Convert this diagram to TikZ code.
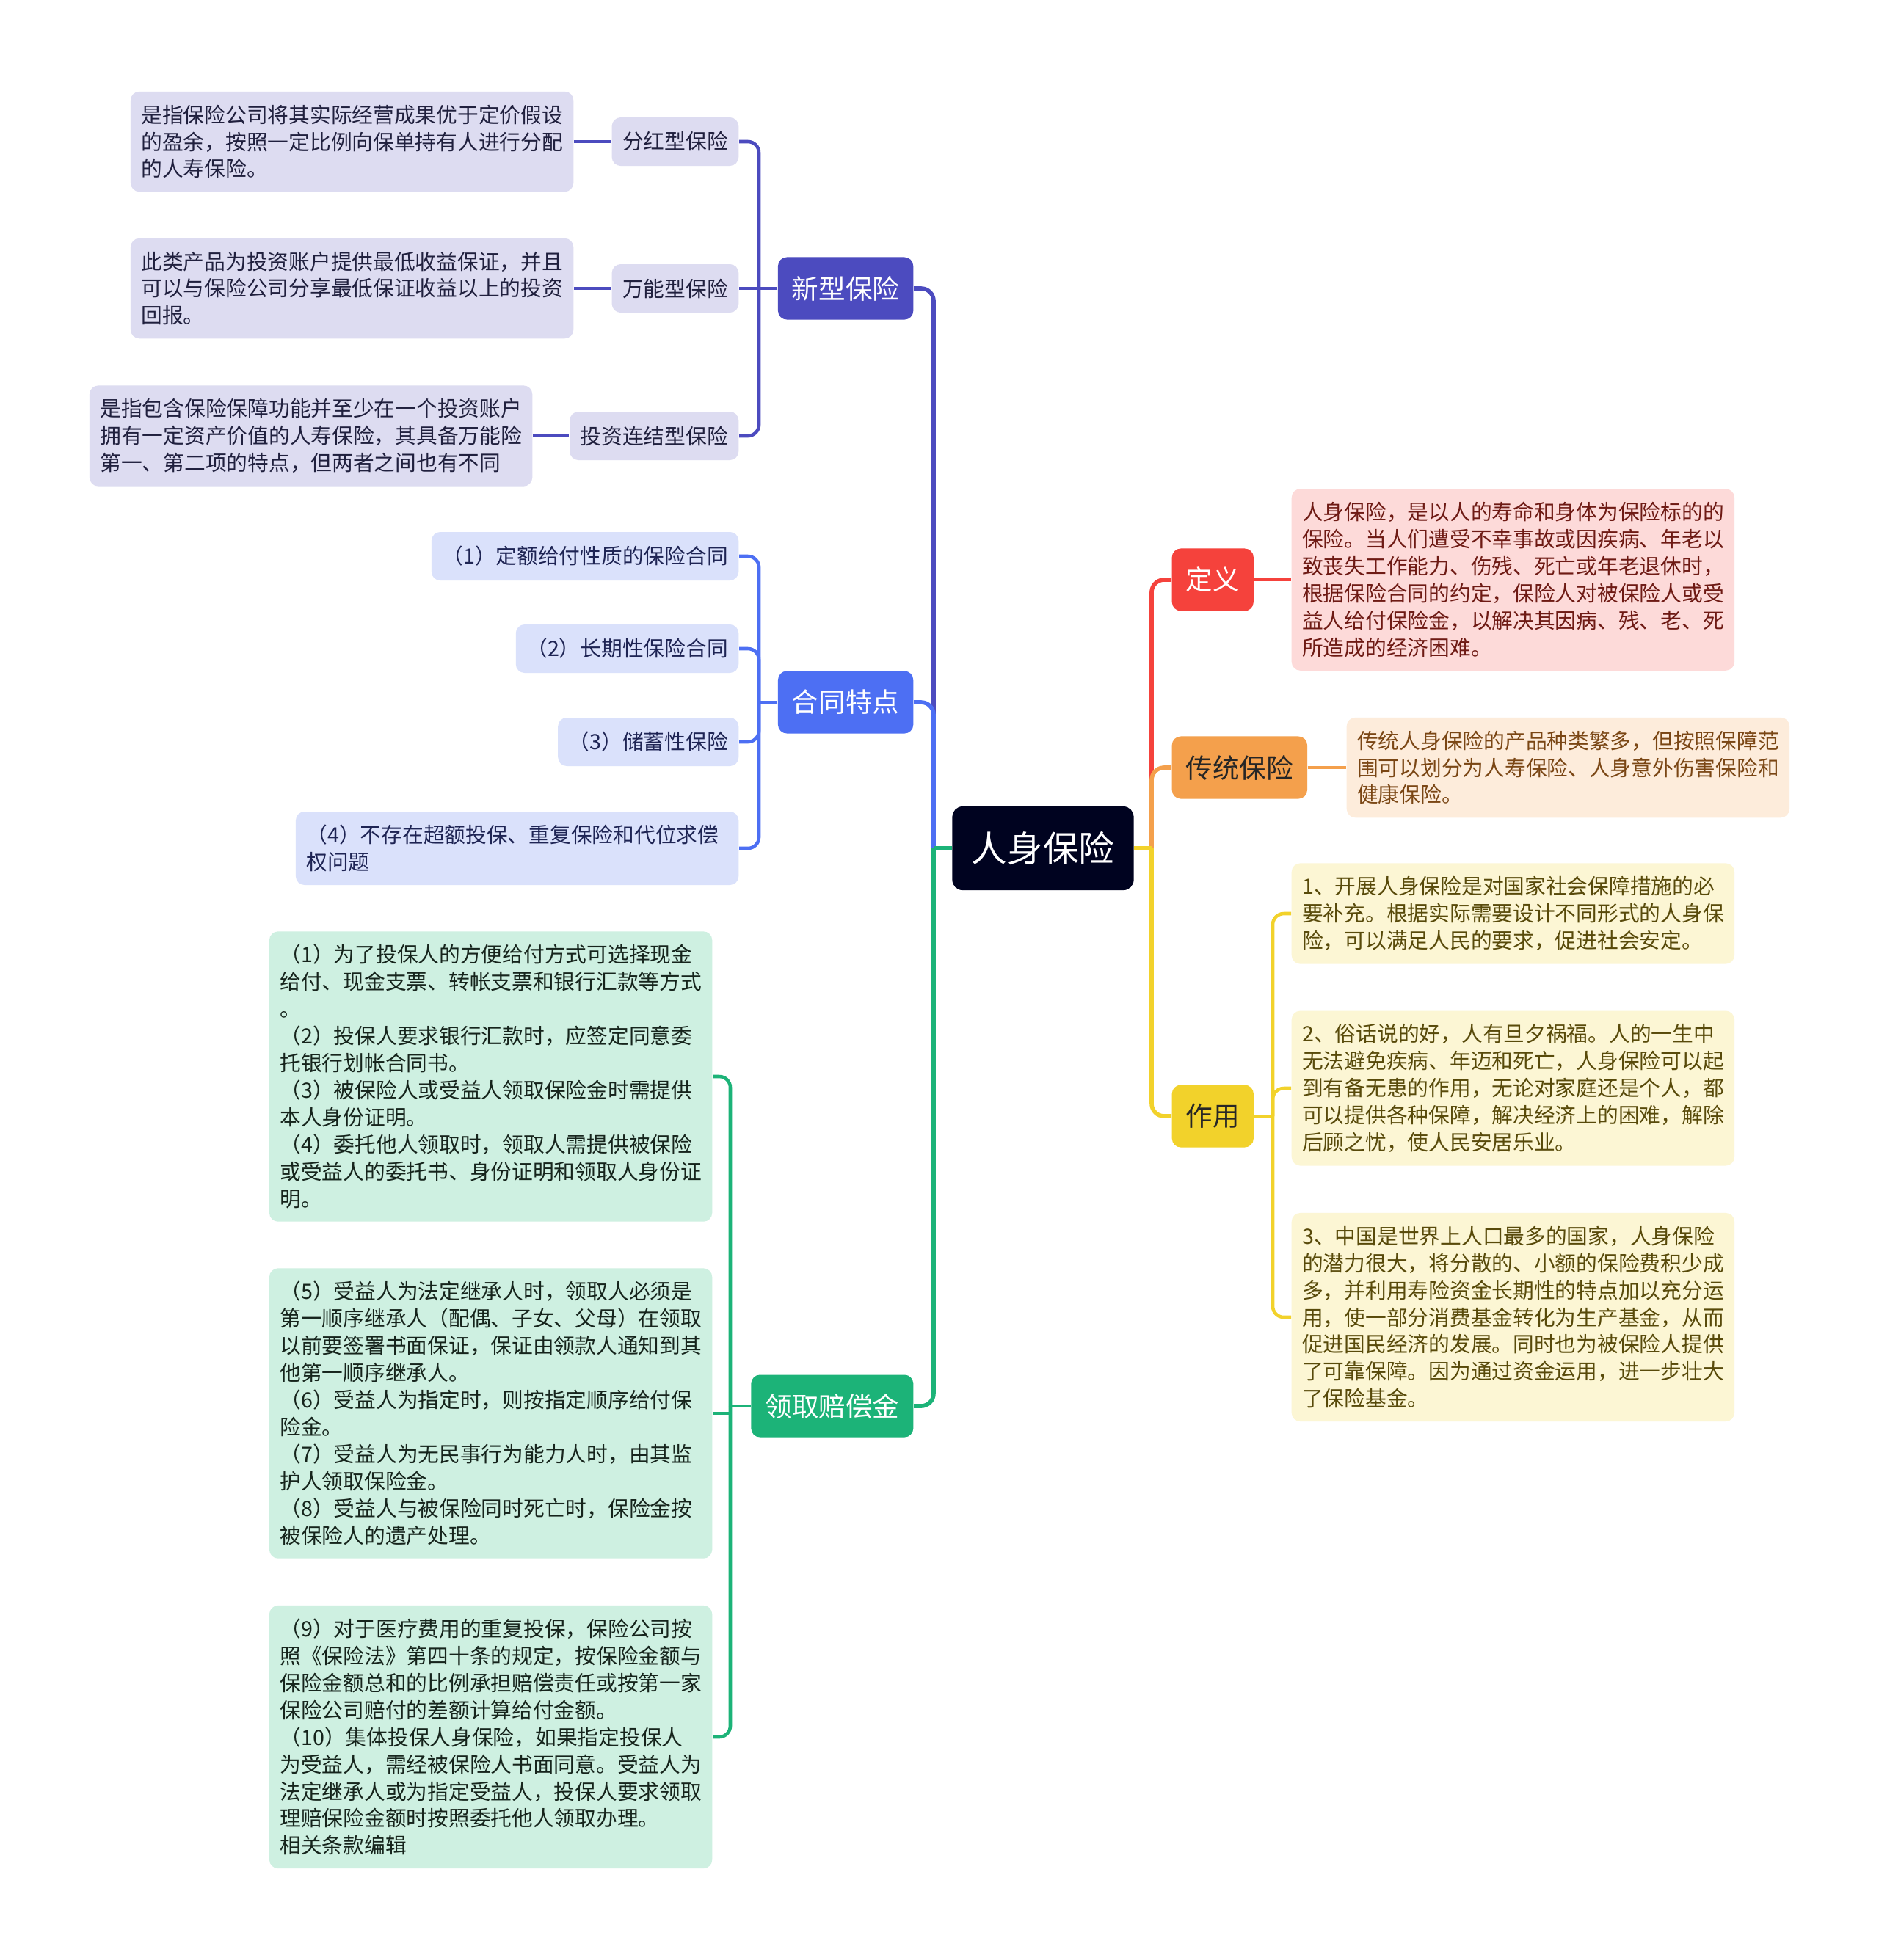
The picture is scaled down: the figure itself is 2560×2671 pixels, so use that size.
\documentclass[tikz,border=0pt]{standalone}
\usepackage{fontspec}
\setmainfont{Noto Sans CJK SC}
\usepackage{tikz}
\usetikzlibrary{positioning}

\definecolor{rootc}{RGB}{0,3,32}
\definecolor{xinc}{RGB}{76,75,191}
\definecolor{xinl}{RGB}{221,220,241}
\definecolor{xint}{RGB}{32,32,62}
\definecolor{hetc}{RGB}{77,111,243}
\definecolor{hetl}{RGB}{218,225,251}
\definecolor{hett}{RGB}{30,36,84}
\definecolor{linc}{RGB}{28,179,120}
\definecolor{linl}{RGB}{206,240,225}
\definecolor{lint}{RGB}{22,36,28}
\definecolor{dinc}{RGB}{245,66,60}
\definecolor{dinl}{RGB}{253,218,217}
\definecolor{dint}{RGB}{110,26,20}
\definecolor{chuc}{RGB}{244,160,76}
\definecolor{chul}{RGB}{253,236,219}
\definecolor{chut}{RGB}{122,70,20}
\definecolor{zuoc}{RGB}{242,210,43}
\definecolor{zuol}{RGB}{252,246,212}
\definecolor{zuot}{RGB}{88,74,10}

\begin{document}
\begin{tikzpicture}[x=0.01cm, y=-0.01cm,
    link/.style={line width=1.6pt, rounded corners=0.17cm},
    sublink/.style={line width=1.3pt, rounded corners=0.15cm},
    rootbox/.style={fill=rootc, text=white, rounded corners=0.14cm,
      minimum width=2.47cm, minimum height=1.14cm,
      font=\fontsize{13.8pt}{16pt}\selectfont},
    topic/.style={rounded corners=0.12cm, minimum height=0.85cm, inner xsep=0.19cm,
      font=\fontsize{10.4pt}{12pt}\selectfont},
    leaf/.style={rounded corners=0.12cm, minimum height=0.66cm, inner xsep=0.145cm,
      font=\fontsize{8.17pt}{10.5pt}\selectfont},
    note/.style={rounded corners=0.12cm, text width=5.74cm, align=left,
      inner xsep=0.145cm, inner ysep=0.18cm,
      font=\fontsize{8.17pt}{10.5pt}\selectfont},
  ]
  \fill[white] (0,0) rectangle (2560,2671);
  \useasboundingbox (0,0) rectangle (2560,2671);

  % centre topic and the two trunk junctions
  \node[rootbox] (root) at (1421,1156) {人身保险};
  \coordinate (lj) at (1272,1156);
  \coordinate (rj) at (1569,1156);

  % left side: main branches
  \node[topic, fill=xinc, text=white, anchor=east] (xinxing) at (1245,393) {新型保险};
  \node[topic, fill=hetc, text=white, anchor=east] (hetong) at (1245,957) {合同特点};
  \node[topic, fill=linc, text=white, anchor=east] (lingqu) at (1245,1916) {领取赔偿金};

  % right side: main branches
  \node[topic, fill=dinc, text=white, anchor=west] (dingyi) at (1596,790) {定义};
  \node[topic, fill=chuc, text=black!85, anchor=west] (chuantong) at (1596,1046) {传统保险};
  \node[topic, fill=zuoc, text=black!85, anchor=west] (zuoyong) at (1596,1521) {作用};

  % 新型保险: three kinds, each with a note
  \node[leaf, fill=xinl, text=xint, anchor=east] (fenhong) at (1007,193) {分红型保险};
  \node[leaf, fill=xinl, text=xint, anchor=east] (wanneng) at (1007,393) {万能型保险};
  \node[leaf, fill=xinl, text=xint, anchor=east] (touzi) at (1007,594) {投资连结型保险};
  \node[note, fill=xinl, text=xint, anchor=east] (fenhongN) at (782,193)
    {是指保险公司将其实际经营成果优于定价假设\\的盈余，按照一定比例向保单持有人进行分配\\的人寿保险。};
  \node[note, fill=xinl, text=xint, anchor=east] (wannengN) at (782,393)
    {此类产品为投资账户提供最低收益保证，并且\\可以与保险公司分享最低保证收益以上的投资\\回报。};
  \node[note, fill=xinl, text=xint, anchor=east] (touziN) at (726,594)
    {是指包含保险保障功能并至少在一个投资账户\\拥有一定资产价值的人寿保险，其具备万能险\\第一、第二项的特点，但两者之间也有不同};

  % 合同特点: four points
  \node[leaf, fill=hetl, text=hett, anchor=east] (ht1) at (1007,758) {（1）定额给付性质的保险合同};
  \node[leaf, fill=hetl, text=hett, anchor=east] (ht2) at (1007,884) {（2）长期性保险合同};
  \node[leaf, fill=hetl, text=hett, anchor=east] (ht3) at (1007,1011) {（3）储蓄性保险};
  \node[note, fill=hetl, text=hett, anchor=east] (ht4) at (1007,1156)
    {（4）不存在超额投保、重复保险和代位求偿\\权问题};

  % 领取赔偿金: three long notes
  \node[note, fill=linl, text=lint, anchor=east] (lq1) at (971,1467)
    {（1）为了投保人的方便给付方式可选择现金\\给付、现金支票、转帐支票和银行汇款等方式\\。\\
     （2）投保人要求银行汇款时，应签定同意委\\托银行划帐合同书。\\
     （3）被保险人或受益人领取保险金时需提供\\本人身份证明。\\
     （4）委托他人领取时，领取人需提供被保险\\或受益人的委托书、身份证明和领取人身份证\\明。};
  \node[note, fill=linl, text=lint, anchor=east] (lq2) at (971,1926)
    {（5）受益人为法定继承人时，领取人必须是\\第一顺序继承人（配偶、子女、父母）在领取\\以前要签署书面保证，保证由领款人通知到其\\他第一顺序继承人。\\
     （6）受益人为指定时，则按指定顺序给付保\\险金。\\
     （7）受益人为无民事行为能力人时，由其监\\护人领取保险金。\\
     （8）受益人与被保险同时死亡时，保险金按\\被保险人的遗产处理。};
  \node[note, fill=linl, text=lint, anchor=east] (lq3) at (971,2367)
    {（9）对于医疗费用的重复投保，保险公司按\\照《保险法》第四十条的规定，按保险金额与\\保险金额总和的比例承担赔偿责任或按第一家\\保险公司赔付的差额计算给付金额。\\
     （10）集体投保人身保险，如果指定投保人\\为受益人，需经被保险人书面同意。受益人为\\法定继承人或为指定受益人，投保人要求领取\\理赔保险金额时按照委托他人领取办理。\\
     相关条款编辑};

  % right side notes
  \node[note, fill=dinl, text=dint, anchor=west] (dingyiN) at (1759,790)
    {人身保险，是以人的寿命和身体为保险标的的\\保险。当人们遭受不幸事故或因疾病、年老以\\致丧失工作能力、伤残、死亡或年老退休时，\\根据保险合同的约定，保险人对被保险人或受\\益人给付保险金，以解决其因病、残、老、死\\所造成的经济困难。};
  \node[note, fill=chul, text=chut, anchor=west] (chuantongN) at (1834,1046)
    {传统人身保险的产品种类繁多，但按照保障范\\围可以划分为人寿保险、人身意外伤害保险和\\健康保险。};
  \node[note, fill=zuol, text=zuot, anchor=west] (zy1) at (1759,1245)
    {1、开展人身保险是对国家社会保障措施的必\\要补充。根据实际需要设计不同形式的人身保\\险，可以满足人民的要求，促进社会安定。};
  \node[note, fill=zuol, text=zuot, anchor=west] (zy2) at (1759,1483)
    {2、俗话说的好，人有旦夕祸福。人的一生中\\无法避免疾病、年迈和死亡，人身保险可以起\\到有备无患的作用，无论对家庭还是个人，都\\可以提供各种保障，解决经济上的困难，解除\\后顾之忧，使人民安居乐业。};
  \node[note, fill=zuol, text=zuot, anchor=west] (zy3) at (1759,1795)
    {3、中国是世界上人口最多的国家，人身保险\\的潜力很大，将分散的、小额的保险费积少成\\多，并利用寿险资金长期性的特点加以充分运\\用，使一部分消费基金转化为生产基金，从而\\促进国民经济的发展。同时也为被保险人提供\\了可靠保障。因为通过资金运用，进一步壮大\\了保险基金。};

  % trunk lines, drawn so that the later colour lies on top
  \draw[link, xinc] (lj) |- (xinxing.east);
  \draw[link, hetc] (lj) |- (hetong.east);
  \draw[link, linc] (root.west) -- (lj);
  \draw[link, linc] (lj) |- (lingqu.east);
  \draw[link, dinc] (rj) |- (dingyi.west);
  \draw[link, chuc] (rj) |- (chuantong.west);
  \draw[link, zuoc] (root.east) -- (rj);
  \draw[link, zuoc] (rj) |- (zuoyong.west);

  % 新型保险 sub-tree
  \coordinate (xj) at (1034,393);
  \draw[sublink, xinc] (xinxing.west) -- (xj);
  \draw[sublink, xinc] (xj) |- (fenhong.east);
  \draw[sublink, xinc] (xj) -- (wanneng.east);
  \draw[sublink, xinc] (xj) |- (touzi.east);
  \draw[sublink, xinc] (fenhong.west) -- (fenhongN.east);
  \draw[sublink, xinc] (wanneng.west) -- (wannengN.east);
  \draw[sublink, xinc] (touzi.west) -- (touziN.east);

  % 合同特点 sub-tree
  \coordinate (hj) at (1034,957);
  \draw[sublink, hetc] (hetong.west) -- (hj);
  \foreach \n in {ht1,ht2,ht3,ht4} \draw[sublink, hetc] (hj) |- (\n.east);

  % 领取赔偿金 sub-tree
  \coordinate (qj) at (995,1916);
  \draw[sublink, linc] (lingqu.west) -- (qj);
  \draw[sublink, linc] (qj) |- (lq1.east);
  \draw[sublink, linc, sharp corners] (qj) |- (lq2.east);
  \draw[sublink, linc] (qj) |- (lq3.east);

  % right side sub-links
  \draw[sublink, dinc] (dingyi.east) -- (dingyiN.west);
  \draw[sublink, chuc] (chuantong.east) -- (chuantongN.west);
  \coordinate (zj) at (1734,1521);
  \draw[sublink, zuoc] (zuoyong.east) -- (zj);
  \foreach \n in {zy1,zy2,zy3} \draw[sublink, zuoc] (zj) |- (\n.west);
\end{tikzpicture}
\end{document}
